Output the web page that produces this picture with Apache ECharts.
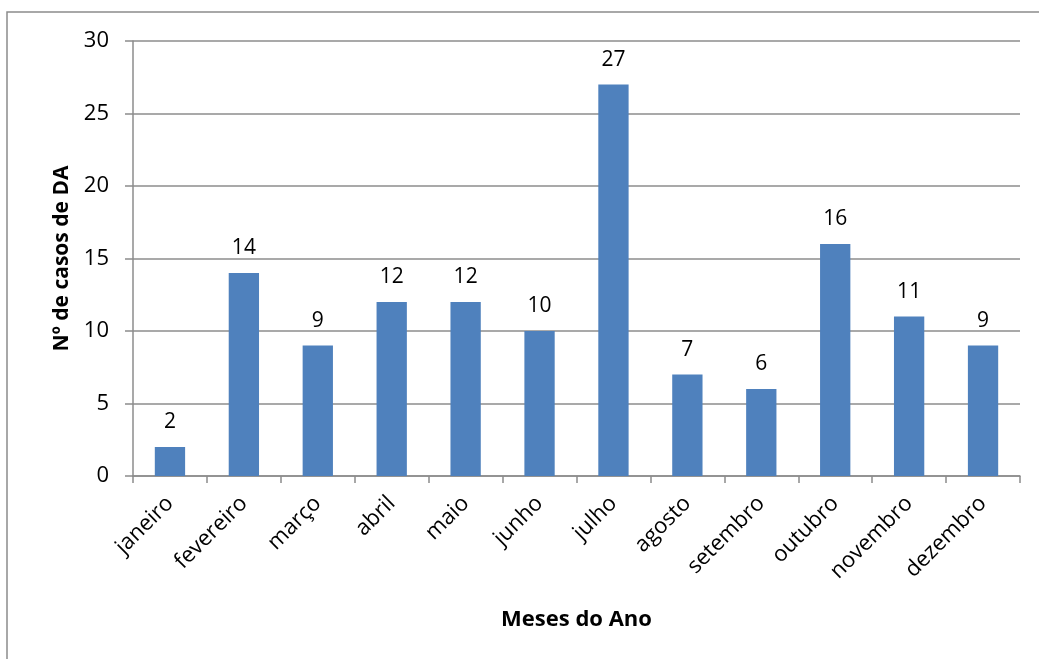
<!DOCTYPE html>
<html>
<head>
<meta charset="utf-8">
<script src="https://cdn.jsdelivr.net/npm/echarts@6/dist/echarts.min.js"></script>
<style>
  html, body { margin: 0; padding: 0; background: #fff; }
  #chart { width: 1039px; height: 659px; }
</style>
</head>
<body>
<div id="chart"></div>
<script>
// meses e número de casos
const meses = ['janeiro', 'fevereiro', 'março', 'abril', 'maio', 'junho',
  'julho', 'agosto', 'setembro', 'outubro', 'novembro', 'dezembro'];
const casos = [2, 14, 9, 12, 12, 10, 27, 7, 6, 16, 11, 9];

const fonte = '"Open Sans", "Noto Sans", sans-serif';
const myChart = echarts.init(document.getElementById('chart'));

const option = {
  animation: false,
  textStyle: { fontFamily: fonte },
  graphic: [{
    type: 'rect',
    shape: { x: 7, y: 12, width: 1060, height: 680 },
    style: { fill: 'none', stroke: '#8c8c8c', lineWidth: 1.5 },
    silent: true
  }],
  grid: { left: 133, right: 19, top: 41, bottom: 183, containLabel: false },
  xAxis: {
    type: 'category',
    data: meses,
    name: 'Meses do Ano',
    nameLocation: 'middle',
    nameGap: 133,
    nameTextStyle: { fontSize: 22, fontWeight: 'bold', color: '#000', fontFamily: fonte },
    axisLine: { lineStyle: { color: '#8c8c8c', width: 1.5 } },
    axisTick: { show: true, length: 7, lineStyle: { color: '#8c8c8c', width: 1.5 } },
    axisLabel: { rotate: 45, fontSize: 22, color: '#000', margin: 24, fontFamily: fonte }
  },
  yAxis: {
    type: 'value',
    min: 0, max: 30, interval: 5,
    name: 'Nº de casos de DA',
    nameLocation: 'middle',
    nameGap: 60,
    nameTextStyle: { fontSize: 21, fontWeight: 'bold', color: '#000', fontFamily: fonte },
    axisLine: { show: true, lineStyle: { color: '#8c8c8c', width: 1.5 } },
    axisTick: { show: true, length: 8, lineStyle: { color: '#8c8c8c', width: 1.5 } },
    splitLine: { lineStyle: { color: '#8c8c8c', width: 1.5 } },
    axisLabel: { fontSize: 22, color: '#000', margin: 24, fontFamily: fonte }
  },
  series: [{
    type: 'bar',
    data: casos,
    barWidth: '41%',
    itemStyle: { color: '#4f81bd' },
    label: { show: true, position: 'top', distance: 14, fontSize: 21, color: '#000', fontFamily: fonte }
  }]
};

option && myChart.setOption(option);
</script>
</body>
</html>
